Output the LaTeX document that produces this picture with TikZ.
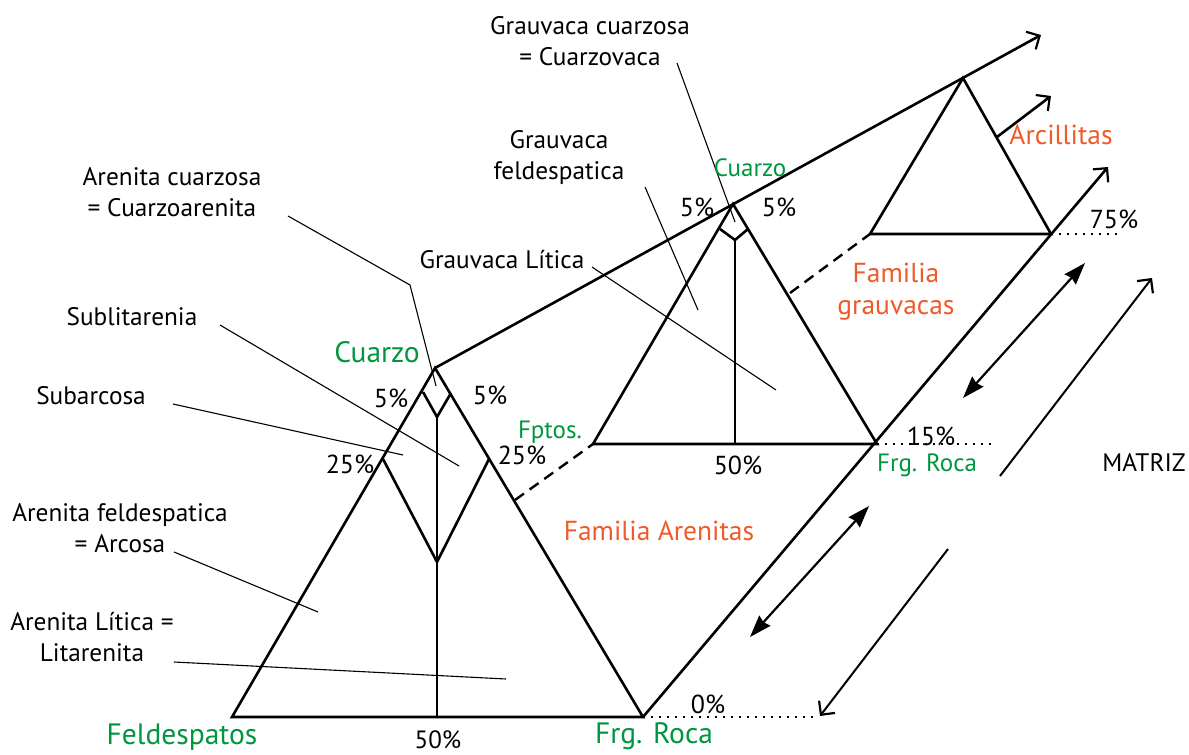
\documentclass[tikz,border=0pt]{standalone}
\usepackage{fontspec}
\setmainfont{PT Sans}
\usetikzlibrary{arrows.meta}
\definecolor{gr}{RGB}{0,150,64}
\definecolor{org}{RGB}{240,90,40}
\tikzset{
  main/.style={line width=2.6pt, line join=miter},
  leader/.style={line width=1.1pt},
  dotl/.style={line width=2.4pt, dash pattern=on 2.4pt off 5.6pt},
  dashl/.style={line width=2.4pt, dash pattern=on 11pt off 7pt},
  lbl/.style={inner sep=0pt, align=center, font=\fontsize{25.3}{31}\selectfont},
  glbl/.style={inner sep=0pt, text=gr, font=\fontsize{25}{30}\selectfont},
  gbig/.style={inner sep=0pt, text=gr, font=\fontsize{29.5}{32}\selectfont},
  olbl/.style={inner sep=0pt, align=center, text=org, font=\fontsize{27.5}{32}\selectfont},
  pct/.style={inner sep=0pt, font=\fontsize{26}{28}\selectfont},
  openarr/.style={-{Straight Barb[length=10pt,width=20pt,line width=2.2pt]}},
  dblarr/.style={{Stealth[length=22pt,width=15pt,inset=2pt]}-{Stealth[length=22pt,width=15pt,inset=2pt]}}
}
\begin{document}
\begin{tikzpicture}[x=1pt,y=-1pt]
\useasboundingbox (0,0) rectangle (1189,755);
% ---- big triangle (arenitas)
\coordinate (A) at (435,368);
\coordinate (L) at (232,717);
\coordinate (R) at (643,717);
\coordinate (A5l) at (423,392);
\coordinate (A5r) at (451,393);
\coordinate (Ad) at (437,417);
\coordinate (A25l) at (383,459);
\coordinate (A25r) at (489,459);
\coordinate (Av) at (437,562);
\coordinate (Ab) at (437,717);
\draw[main] (L) -- (A) -- (R) -- cycle;
\draw[main] (A5l) -- (Ad) -- (A5r);
\draw[main] (Ad) -- (Ab);
\draw[main] (A25l) -- (Av) -- (A25r);
% ---- middle triangle (grauvacas)
\coordinate (M) at (733,204);
\coordinate (ML) at (593,444);
\coordinate (MR) at (877,444);
\coordinate (M5l) at (720,229);
\coordinate (M5r) at (748,229);
\coordinate (Md) at (735,240);
\coordinate (Mb) at (735,444);
\draw[main] (ML) -- (M) -- (MR) -- cycle;
\draw[main] (M5l) -- (Md) -- (M5r);
\draw[main] (Md) -- (Mb);
% ---- right triangle (arcillitas)
\coordinate (T) at (963,78);
\coordinate (TL) at (870,234);
\coordinate (TR) at (1051,234);
\draw[main] (TL) -- (T) -- (TR) -- cycle;
% ---- long lines
\coordinate (Q1) at (1041,35);
\coordinate (Q2) at (1108,167);
\draw[main, openarr] (A) -- (Q1);
\draw[main, openarr] (R) -- (Q2);
\coordinate (Tm) at (997,137);
\coordinate (Tq) at (1051,96);
\draw[main, openarr] (Tm) -- (Tq);
% dashed connections
\coordinate (D1) at (515,500);
\coordinate (D2) at (790,293);
\draw[dashl] (D1) -- (ML);
\draw[dashl] (D2) -- (TL);
% dotted lines
\coordinate (P0) at (818,717);
\coordinate (P15) at (995,444);
\coordinate (P75) at (1121,234);
\draw[dotl] (R) -- (P0);
\draw[dotl] (MR) -- (P15);
\draw[dotl] (TR) -- (P75);
% double arrows
\coordinate (E1) at (750,637);
\coordinate (E2) at (869,506);
\coordinate (E3) at (963,398);
\coordinate (E4) at (1085,263);
\draw[line width=2.2pt, dblarr] (E1) -- (E2);
\draw[line width=2.2pt, dblarr] (E3) -- (E4);
% single arrows
\coordinate (F1) at (948,549);
\coordinate (F2) at (820,716);
\coordinate (G1) at (1000,476);
\coordinate (G2) at (1152,278);
\draw[line width=2pt, openarr] (F1) -- (F2);
\draw[line width=2pt, openarr] (G1) -- (G2);
% ---- labels
\node[lbl] (gc) at (590,41) {Grauvaca cuarzosa\\= Cuarzovaca};
\node[lbl] (gf) at (559,158) {Grauvaca\\feldespatica};
\node[lbl] (gl) at (502,260) {Grauvaca Lítica};
\node[lbl] (ac) at (172,192) {Arenita cuarzosa\\= Cuarzoarenita};
\node[lbl] (sl) at (132,317) {Sublitarenia};
\node[lbl] (sa) at (91,396) {Subarcosa};
\node[lbl] (af) at (120,528) {Arenita feldespatica\\= Arcosa};
\node[lbl] (al) at (92,637) {Arenita Lítica =\\Litarenita};
% leaders
\coordinate (gc1) at (677,63);  \coordinate (gc2) at (735,222);
\coordinate (gf1) at (645,187); \coordinate (gf2) at (698,310);
\coordinate (gl1) at (592,267); \coordinate (gl2) at (776,390);
\coordinate (ac1) at (288,216); \coordinate (ac2) at (410,285); \coordinate (ac3) at (436,386);
\coordinate (sl1) at (220,325); \coordinate (sl2) at (459,466);
\coordinate (sa1) at (173,404); \coordinate (sa2) at (403,455);
\coordinate (af1) at (174,552); \coordinate (af2) at (318,612);
\coordinate (al1) at (174,662); \coordinate (al2) at (506,679);
\draw[leader] (gc1) -- (gc2);
\draw[leader] (gf1) -- (gf2);
\draw[leader] (gl1) -- (gl2);
\draw[leader] (ac1) -- (ac2) -- (ac3);
\draw[leader] (sl1) -- (sl2);
\draw[leader] (sa1) -- (sa2);
\draw[leader] (af1) -- (af2);
\draw[leader] (al1) -- (al2);
% green labels
\node[gbig] (cz1) at (377,352) {Cuarzo};
\node[gbig] (fd) at (182,737) {Feldespatos};
\node[gbig] (fr1) at (654,736) {Frg. Roca};
\node[glbl] (fr2) at (927,465) {Frg. Roca};
\node[glbl] (fp) at (550,432) {Fptos.};
\node[glbl] (cz2) at (750,168) {Cuarzo};
% orange labels
\node[olbl] (fa) at (659,531) {Familia Arenitas};
\node[olbl] (fg) at (896,292) {Familia\\grauvacas};
\node[olbl] (ar) at (1061,135) {Arcillitas};
% percentages
\node[pct] (p1) at (391,398) {5\%};
\node[pct] (p2) at (490,395) {5\%};
\node[pct] (p3) at (350,464) {25\%};
\node[pct] (p4) at (522,455) {25\%};
\node[pct, font=\fontsize{25}{26}\selectfont] (p5) at (438,740) {50\%};
\node[pct] (p6) at (738,465) {50\%};
\node[pct] (p7) at (697,207) {5\%};
\node[pct] (p8) at (779,207) {5\%};
\node[pct] (p9) at (708,704) {0\%};
\node[pct] (p10) at (931,436) {15\%};
\node[pct] (p11) at (1114,219) {75\%};
\node[lbl] (mz) at (1144,462) {MATRIZ};
\end{tikzpicture}
\end{document}
